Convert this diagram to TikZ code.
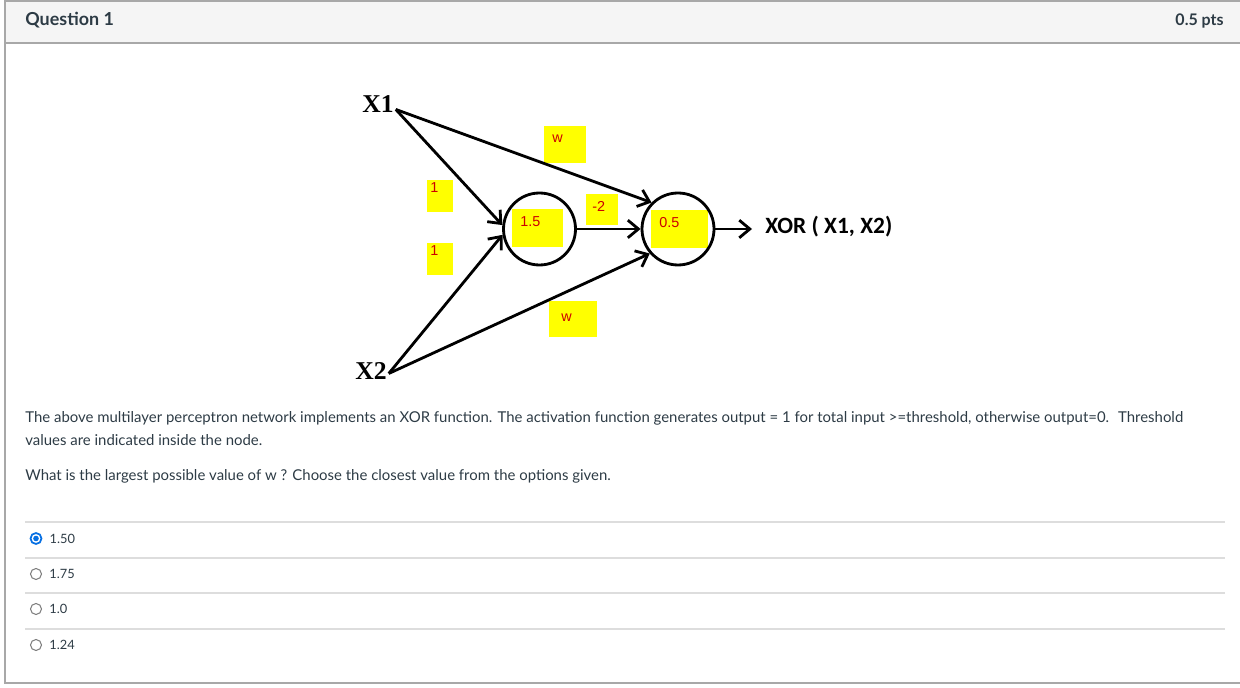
\documentclass[tikz,border=0pt]{standalone}
\usepackage{fontspec}
\setmainfont{Lato}
\newfontfamily\timesbf{Liberation Serif}
\newfontfamily\calibri{Carlito}
\newfontfamily\arial{Liberation Sans}
\usetikzlibrary{arrows.meta, positioning}
\usepackage{xcolor}
\definecolor{Ink}{HTML}{2D3B45}
\definecolor{Frame}{HTML}{A8A8A8}
\definecolor{HeadBg}{HTML}{F5F5F5}
\definecolor{Rule}{HTML}{DDDDDD}
\definecolor{Hilite}{HTML}{FFFF00}
\definecolor{Weight}{HTML}{CC0000}
\definecolor{Radio}{HTML}{0770E3}
\newlength\px
\setlength\px{0.02cm}

\begin{document}
\begin{tikzpicture}[
    x=0.02cm, y=-0.02cm,
    unit/.style={
        draw, circle, line width=1.6pt, minimum size=72\px, inner sep=0pt
    },
    wbox/.style={
        fill=Hilite, text=Weight, font=\arial\fontsize{8.2}{9}\selectfont,
        anchor=north west, inner sep=0pt, align=left
    },
    input/.style={font=\timesbf\bfseries\fontsize{14.6}{16}\selectfont, inner sep=1pt},
    arr/.style={-{Straight Barb[length=6pt, width=10pt]}, line width=1.6pt},
    body/.style={font=\fontsize{8.5}{10}\selectfont, text=Ink, anchor=base west, inner sep=0pt},
    choice/.style={font=\fontsize{7.3}{9}\selectfont, text=Ink, anchor=base west, inner sep=0pt},
    radio/.style={circle, draw=gray, line width=0.6pt, minimum size=11\px, inner sep=0pt},
    radiosel/.style={
        radio, draw=Radio, line width=1pt,
        path picture={\fill[Radio] (path picture bounding box.center) circle (2.8\px);}
    }
]
\useasboundingbox (0,0) rectangle (1240,688);

% === Question frame ===
\fill[HeadBg] (5,1) rectangle (1240,43);
\draw[Frame, line width=0.8pt] (1240,1) -- (5,1) -- (5,683) -- (1240,683);
\draw[Frame, line width=0.8pt] (5,43) -- (1240,43);
\node[font=\bfseries\fontsize{10.2}{12}\selectfont, text=Ink, anchor=west, inner sep=0pt]
    (qtitle) at (25,20) {Question 1};
\node[font=\bfseries\fontsize{9.1}{11}\selectfont, text=Ink, anchor=east, inner sep=0pt]
    (qpts) at (1224,21) {0.5 pts};

% === Weights and thresholds (yellow notes) ===
\node[wbox, text width=42\px, text height=16.5\px, text depth=20.5\px] (wtop) at (544,126) {\hspace*{8\px}w};
\node[wbox, text width=26\px, text height=12.5\px, text depth=19.5\px] (one1) at (427,180) {\hspace*{3\px}1};
\node[wbox, text width=26\px, text height=12.5\px, text depth=19.5\px] (one2) at (427,243) {\hspace*{3\px}1};
\node[wbox, text width=51\px, text height=17.5\px, text depth=20.5\px] (thr1) at (512,209) {\hspace*{8\px}1.5};
\node[wbox, text width=32\px, text height=17\px, text depth=14\px] (wmid) at (586,194) {\hspace*{6\px}-2};
\node[wbox, text width=57\px, text height=17.5\px, text depth=20.5\px] (thr2) at (651,210) {\hspace*{8\px}0.5};
\node[wbox, text width=48\px, text height=20.5\px, text depth=15.5\px] (wbot) at (549,301) {\hspace*{12\px}w};

% === Network ===
\node[input] (x1) at (378,104) {X1};
\node[input] (x2) at (371,371) {X2};
\node[unit] (h) at (539.5,229) {};
\node[unit] (o) at (678,229) {};
\coordinate (out) at (752,229);
\node[font=\calibri\bfseries\fontsize{13.3}{15}\selectfont, anchor=west, inner sep=0pt]
    (xor) at (765,227) {XOR ( X1, X2)};

\draw[arr] ([yshift=3\px]x1.base east) -- (h.174);
\draw[arr] ([yshift=3\px]x1.base east) -- (o.135);
\draw[arr] ([yshift=6\px]x2.base east) -- (h.189);
\draw[arr] ([yshift=6\px]x2.base east) -- (o.221);
\draw[arr] (h.east) -- (o.west);
\draw[arr] (o.east) -- (out);

% === Question text ===
\node[body] (txt1) at (25,423) {The above multilayer perceptron network implements an XOR function. The activation function generates output = 1 for total input >=threshold, otherwise output=0.~ Threshold};
\node[body] (txt2) at (25,446) {values are indicated inside the node.};
\node[body] (ask) at (25,481) {What is the largest possible value of w ? Choose the closest value from the options given.};

% === Options ===
\foreach \y in {522,558,593,629}
    \draw[Rule, line width=0.7pt] (25,\y) -- (1225,\y);

\node[radiosel] (r1) at (36,538.5) {};
\node[radio] (r2) at (36,574) {};
\node[radio] (r3) at (36,609) {};
\node[radio] (r4) at (36,645) {};
\node[choice, right=7\px of r1.east, anchor=west] (c1) {1.50};
\node[choice, right=7\px of r2.east, anchor=west] (c2) {1.75};
\node[choice, right=7\px of r3.east, anchor=west] (c3) {1.0};
\node[choice, right=7\px of r4.east, anchor=west] (c4) {1.24};

\end{tikzpicture}
\end{document}
